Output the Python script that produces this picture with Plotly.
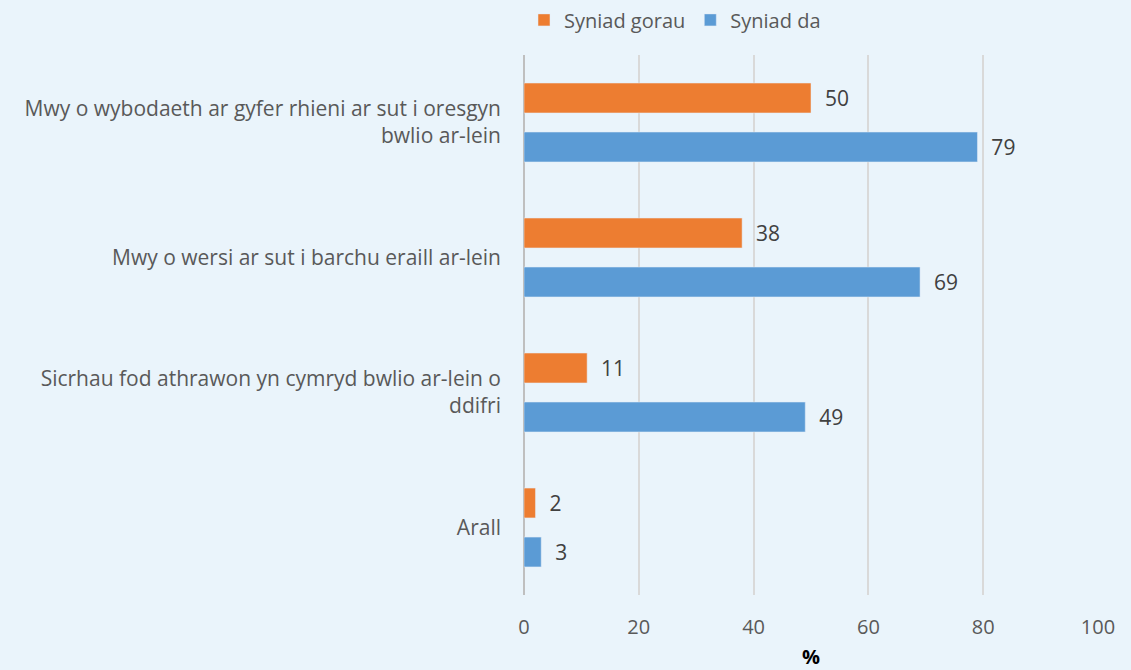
import plotly.graph_objects as go

categories = [
    "Mwy o wybodaeth ar gyfer rhieni ar sut i oresgyn<br>bwlio ar-lein",
    "Mwy o wersi ar sut i barchu eraill ar-lein",
    "Sicrhau fod athrawon yn cymryd bwlio ar-lein o<br>ddifri",
    "Arall",
]
series_names = ["Syniad gorau", "Syniad da"]
gorau = [50, 38, 11, 2]
da = [79, 69, 49, 3]
x_ticks = [0, 20, 40, 60, 80, 100]

colors = ["#ED7D31", "#5B9BD5"]
bg = "#EAF4FB"
font_fam = "Open Sans, Liberation Sans, Arial, sans-serif"

fig = go.Figure()
for name, vals, col in zip(series_names, [gorau, da], colors):
    fig.add_trace(go.Bar(
        y=categories, x=vals, name=name, orientation="h",
        marker=dict(color=col),
        text=vals, textposition="outside",
        texttemplate="  %{x}",
        textfont=dict(size=21, color="#404040", family=font_fam),
        cliponaxis=False,
    ))

fig.update_layout(
    width=1131, height=670,
    paper_bgcolor=bg, plot_bgcolor=bg,
    margin=dict(l=524, r=33, t=55, b=75, autoexpand=False),
    barmode="group", bargap=0.274, bargroupgap=0.39,
    font=dict(family=font_fam, color="#595959", size=20),
    legend=dict(orientation="h", x=0.0, xanchor="left", y=1.065, yanchor="middle",
                font=dict(size=20, color="#595959"), traceorder="normal",
                itemwidth=30, tracegroupgap=0),
    showlegend=True,
)
fig.update_xaxes(
    range=[0, 100], tickvals=x_ticks, showgrid=True, gridcolor="#D9D9D9", gridwidth=1.5,
    zeroline=True, zerolinecolor="#BFBFBF", zerolinewidth=2,
    tickfont=dict(size=20, color="#595959"),
    ticks="outside", ticklen=14, tickcolor="rgba(0,0,0,0)",
    title=dict(text="<b>%</b>", font=dict(size=20, color="#000000"), standoff=10),
    showline=False, automargin=False,
)
fig.update_yaxes(
    autorange="reversed", showgrid=False, showline=False, automargin=False,
    tickfont=dict(size=21, color="#595959"), ticklabelstandoff=22,
)
fig.write_html("out.html", post_script="document.body.style.margin='0';",
               config={"displayModeBar": False})
